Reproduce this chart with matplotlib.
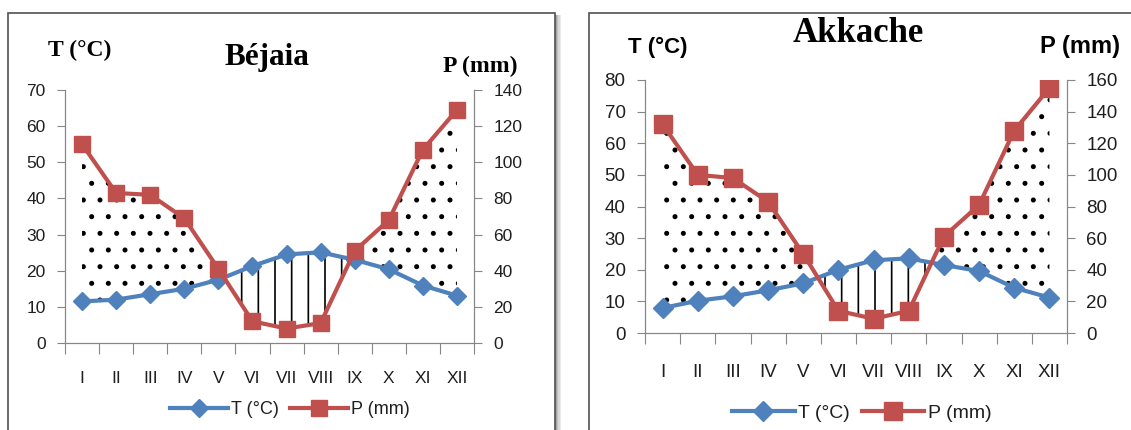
import matplotlib.pyplot as plt
from matplotlib.patches import Rectangle
from matplotlib.lines import Line2D
import numpy as np

months = ["I", "II", "III", "IV", "V", "VI", "VII", "VIII", "IX", "X", "XI", "XII"]

bejaia_t = [11.5, 12.0, 13.5, 15.0, 17.5, 21.3, 24.5, 25.1, 23.0, 20.4, 15.9, 13.1]
bejaia_p = [110, 83, 82, 69, 41, 12, 8, 11, 51, 68, 107, 129]

akkache_t = [7.9, 10.2, 11.6, 13.5, 15.7, 20.0, 23.0, 23.6, 21.5, 19.6, 14.3, 11.2]
akkache_p = [132, 100, 98, 83, 50, 14, 9, 14, 61, 81, 128, 155]

BLUE = "#4f81bd"
RED = "#c0504d"
AXIS = "#868686"
TXT = "#1f1f1f"
W, H = 1131, 430


def fx(px):
    return px / W


def fy(py):
    return 1 - py / H


def draw_panel(fig, rect, temp, precip, t_max, tick_size, label_pad, ms):
    ax = fig.add_axes(rect)
    ax2 = ax.twinx()
    x = np.arange(len(months))
    t = np.array(temp)
    half_p = np.array(precip) / 2

    # humid period (dots) and dry period (vertical lines)
    ax.fill_between(x, t, half_p, where=half_p >= t, interpolate=True,
                    facecolor="none", edgecolor="black", linewidth=0, hatch=".")
    ax.fill_between(x, t, half_p, where=half_p <= t, interpolate=True,
                    facecolor="none", edgecolor="black", linewidth=0, hatch="|")

    ax.plot(x, temp, color=BLUE, lw=3, marker="D", ms=ms[0], zorder=3)
    ax2.plot(x, precip, color=RED, lw=3, marker="s", ms=ms[1], zorder=3)

    ax.set_xlim(-0.5, len(months) - 0.5)
    ax.set_ylim(0, t_max)
    ax2.set_ylim(0, 2 * t_max)
    ax.set_yticks(np.arange(0, t_max + 1, 10))
    ax2.set_yticks(np.arange(0, 2 * t_max + 1, 20))

    ax.set_xticks(np.arange(-0.5, len(months)), labels=[])
    ax.set_xticks(x, labels=months, minor=True)
    ax.tick_params(axis="x", which="major", length=8, color=AXIS, direction="out")
    ax.tick_params(axis="x", which="minor", length=0, pad=label_pad,
                   labelsize=tick_size, labelcolor=TXT)
    ax.tick_params(axis="y", length=6, color=AXIS, pad=8,
                   labelsize=tick_size, labelcolor=TXT)
    ax2.tick_params(axis="y", length=6, color=AXIS, pad=8,
                    labelsize=tick_size, labelcolor=TXT)

    for a in (ax, ax2):
        a.spines["top"].set_visible(False)
        for s in ("left", "right", "bottom"):
            a.spines[s].set_color(AXIS)
        a.set_facecolor("none")
    return ax


plt.rcParams["font.family"] = ["Liberation Sans", "DejaVu Sans"]
plt.rcParams["hatch.linewidth"] = 1.2
fig = plt.figure(figsize=(W / 100, H / 100), dpi=100)

# panel frames (bottom edge cut off in the reference)
for i, a in enumerate([0.35, 0.25, 0.15, 0.08]):
    fig.patches.append(Rectangle((fx(555 + i * 1.5), -0.1), fx(1.5), fy(15) + 0.1,
                                 transform=fig.transFigure, facecolor="black",
                                 alpha=a, edgecolor="none"))
fig.patches.append(Rectangle((fx(8), -0.1), fx(547), fy(13) + 0.1,
                             transform=fig.transFigure, facecolor="none",
                             edgecolor="#505050", lw=1.2))
fig.patches.append(Rectangle((fx(589), -0.1), fx(600), fy(13) + 0.1,
                             transform=fig.transFigure, facecolor="none",
                             edgecolor="#505050", lw=1.2))

# Béjaia
draw_panel(fig, [fx(65), fy(343), fx(409), (343 - 90) / H],
           bejaia_t, bejaia_p, 70, 12.5, 20, (9, 11.5))
fig.text(fx(80), fy(50), "T (°C)", family="Liberation Serif", weight="bold",
         fontsize=17, ha="center", va="center", color="black")
fig.text(fx(267), fy(57), "Béjaia", family="Liberation Serif", weight="bold",
         fontsize=22.5, ha="center", va="center", color="black")
fig.text(fx(480), fy(66), "P (mm)", family="Liberation Serif", weight="bold",
         fontsize=17, ha="center", va="center", color="black")

# Akkache
draw_panel(fig, [fx(645), fy(333), fx(422), (333 - 80) / H],
           akkache_t, akkache_p, 80, 13.5, 22, (10, 13))
fig.text(fx(858), fy(33), "Akkache", family="Liberation Serif", weight="bold",
         fontsize=25, ha="center", va="center", color="black")
fig.text(fx(658), fy(47), "T (°C)", weight="bold",
         fontsize=16, ha="center", va="center", color="black")
fig.text(fx(1080), fy(46), "P (mm)", weight="bold",
         fontsize=17, ha="center", va="center", color="black")

# legends
for cx, cy, size, ms in [(290, 410, 13, (9, 11.5)), (862, 413, 14, (10, 13))]:
    handles = [
        Line2D([], [], color=BLUE, lw=3, marker="D", ms=ms[0]),
        Line2D([], [], color=RED, lw=3, marker="s", ms=ms[1]),
    ]
    fig.legend(handles, ["T (°C)", "P (mm)"], loc="center",
               bbox_to_anchor=(fx(cx), fy(cy)), ncol=2, frameon=False,
               fontsize=size, handlelength=3.2, handletextpad=0.2,
               columnspacing=0.6, labelcolor=TXT)

fig.savefig("out.png", dpi=100)
